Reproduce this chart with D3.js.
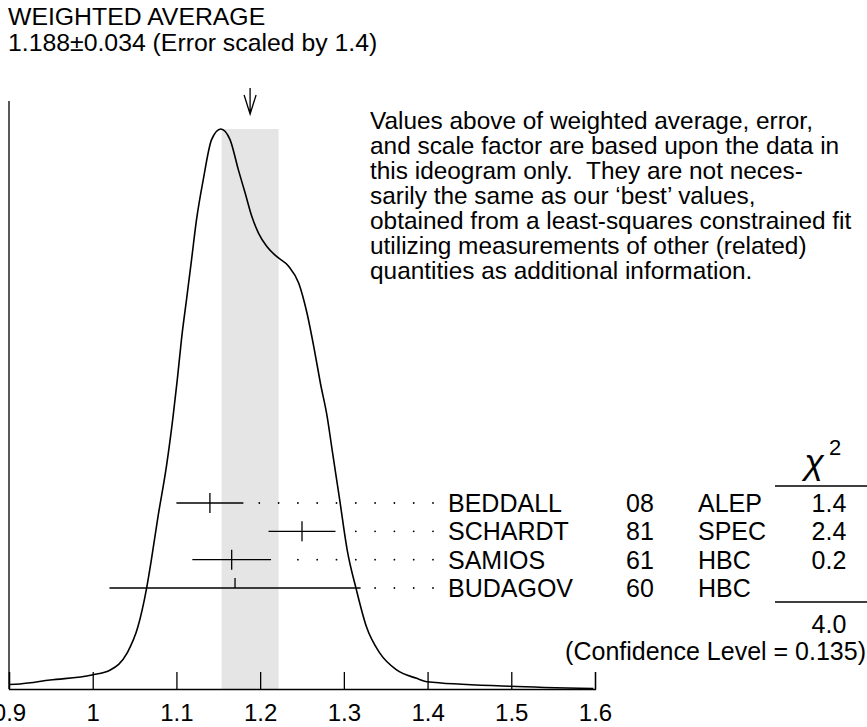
<!DOCTYPE html>
<html>
<head>
<meta charset="utf-8">
<script src="https://cdn.jsdelivr.net/npm/d3@7"></script>
<style>
  body { margin: 0; background: #fff; }
  text { font-family: "Liberation Sans", Arial, Helvetica, sans-serif; fill: #000; }
</style>
</head>
<body>
<script>
// measurements
var names  = ["BEDDALL", "SCHARDT", "SAMIOS", "BUDAGOV"];
var years  = ["08", "81", "61", "60"];
var techs  = ["ALEP", "SPEC", "HBC", "HBC"];
var values = [1.14, 1.25, 1.166, 1.17];
var errors = [0.04, 0.04, 0.047, 0.15];
var chi2   = ["1.4", "2.4", "0.2", ""];
var chi2Total = "4.0";
var confLevel = "0.135";

var avgValue = 1.188, avgError = 0.034, scaleFactor = "1.4";

var tickValues = [0.9, 1.0, 1.1, 1.2, 1.3, 1.4, 1.5, 1.6];
var tickLabels = ["0.9", "1", "1.1", "1.2", "1.3", "1.4", "1.5", "1.6"];

// ideogram curve (x value, height relative to peak)
var curveX = [0.900, 0.913, 0.949, 0.999, 1.021, 1.041, 1.054, 1.064, 1.070, 1.078,
              1.088, 1.096, 1.101, 1.106, 1.112, 1.118, 1.124, 1.132, 1.142, 1.153,
              1.164, 1.174, 1.182, 1.190, 1.198, 1.208, 1.220, 1.234, 1.246, 1.256,
              1.264, 1.272, 1.280, 1.286, 1.295, 1.304, 1.315, 1.327, 1.343, 1.363,
              1.387, 1.399, 1.498, 1.598];
var curveY = [0.008, 0.009, 0.016, 0.025, 0.034, 0.064, 0.111, 0.177, 0.230, 0.308,
              0.397, 0.487, 0.552, 0.624, 0.695, 0.766, 0.838, 0.909, 0.981, 1.000,
              0.981, 0.927, 0.886, 0.844, 0.814, 0.790, 0.772, 0.755, 0.725, 0.671,
              0.612, 0.546, 0.487, 0.427, 0.338, 0.248, 0.177, 0.111, 0.064, 0.034,
              0.019, 0.013, 0.005, 0.001];

var width = 867,
    height = 727,
    fontSize = 25;

var svg = d3.select("body")
            .append("svg")
            .attr("width", width)
            .attr("height", height);

var x = d3.scaleLinear()
    .domain([0.9, 1.6])
    .range([9, 595]);

var y = d3.scaleLinear()
    .domain([0, 1])
    .range([689, 129]);

var row = d3.scalePoint()
    .domain(names)
    .range([503, 588]);

// shaded band for weighted average +- error
svg.append("rect")
    .attr("x", x(avgValue - avgError))
    .attr("y", y(1))
    .attr("width", x(avgValue + avgError) - x(avgValue - avgError))
    .attr("height", y(0) - y(1))
    .attr("fill", "#e5e5e5");

// left axis line
svg.append("line")
    .attr("x1", x(0.9)).attr("x2", x(0.9))
    .attr("y1", 101).attr("y2", y(0))
    .attr("stroke", "#000")
    .attr("stroke-width", 1.3);

// bottom axis, ticks pointing up
var axis = svg.append("g")
    .attr("transform", "translate(0," + y(0) + ")")
    .call(d3.axisBottom(x)
        .tickValues(tickValues)
        .tickFormat(function(d, i) { return tickLabels[i]; })
        .tickSize(-17)
        .tickSizeOuter(-17)
        .tickPadding(15));
axis.selectAll("path, line").attr("stroke", "#000").attr("stroke-width", 1.3);
axis.selectAll("text")
    .attr("font-family", "Liberation Sans, Arial, sans-serif")
    .attr("font-size", 24)
    .attr("fill", "#000");

// ideogram
var line = d3.line()
    .x(function(d, i) { return x(curveX[i]); })
    .y(function(d) { return y(d); })
    .curve(d3.curveMonotoneX);

svg.append("path")
    .datum(curveY)
    .attr("fill", "none")
    .attr("stroke", "#000")
    .attr("stroke-width", 1.6)
    .attr("d", line);

// titles
svg.append("text")
    .attr("x", 8).attr("y", 25)
    .attr("font-size", 24.8)
    .text("WEIGHTED AVERAGE");
svg.append("text")
    .attr("x", 8).attr("y", 51)
    .attr("font-size", 24.8)
    .text(avgValue.toFixed(3) + "\u00b1" + avgError.toFixed(3) + " (Error scaled by " + scaleFactor + ")");

// arrow at the weighted average
var ax = x(avgValue);
svg.append("path")
    .attr("d", "M" + ax + ",88V114M" + (ax - 6) + ",95L" + ax + ",114L" + (ax + 6) + ",95")
    .attr("fill", "none")
    .attr("stroke", "#000")
    .attr("stroke-width", 1.3);

// note
var note = [
  "Values above of weighted average, error,",
  "and scale factor are based upon the data in",
  "this ideogram only.  They are not neces-",
  "sarily the same as our \u2018best\u2019 values,",
  "obtained from a least-squares constrained fit",
  "utilizing measurements of other (related)",
  "quantities as additional information."
];
svg.append("g").selectAll("text")
  .data(note)
  .enter().append("text")
    .attr("x", 370)
    .attr("y", function(d, i) { return 129 + i * 25; })
    .attr("font-size", 24.4)
    .style("white-space", "pre")
    .text(function(d) { return d; });

// measurements: error bars, dotted leaders, labels
var labelX = 448, dotStep = 19.3;
names.forEach(function(name, i) {
    var ry = row(name);
    var lo = x(values[i] - errors[i]), hi = x(values[i] + errors[i]), c = x(values[i]);
    svg.append("line")
        .attr("x1", lo).attr("x2", hi)
        .attr("y1", ry).attr("y2", ry)
        .attr("stroke", "#000").attr("stroke-width", 1.3);
    svg.append("line")
        .attr("x1", c).attr("x2", c)
        .attr("y1", ry - 10).attr("y2", chi2[i] === "" ? ry : ry + 10)
        .attr("stroke", "#000").attr("stroke-width", 1.3);

    var dots = [];
    for (var k = 1; labelX - 15 - (k - 1) * dotStep > hi + 10; k++) {
        dots.push(labelX - 15 - (k - 1) * dotStep);
    }
    svg.append("g").selectAll("circle")
      .data(dots)
      .enter().append("circle")
        .attr("cx", function(d) { return d; })
        .attr("cy", ry)
        .attr("r", 0.9)
        .attr("fill", "#000");

    var by = ry + 9;
    svg.append("text").attr("x", labelX).attr("y", by).attr("font-size", fontSize).text(name);
    svg.append("text").attr("x", 626).attr("y", by).attr("font-size", fontSize).text(years[i]);
    svg.append("text").attr("x", 698).attr("y", by).attr("font-size", fontSize).text(techs[i]);
    svg.append("text").attr("x", 829).attr("y", by).attr("font-size", fontSize)
        .attr("text-anchor", "middle").text(chi2[i]);
});

// chi-square column
svg.append("text")
    .attr("x", 814).attr("y", 474)
    .attr("font-family", "DejaVu Serif, Liberation Serif, serif")
    .attr("font-style", "italic")
    .attr("font-size", 36)
    .attr("text-anchor", "middle")
    .text("\u03c7");
svg.append("text")
    .attr("x", 829).attr("y", 455)
    .attr("font-size", 22)
    .text("2");
svg.append("line")
    .attr("x1", 775).attr("x2", 867).attr("y1", 486).attr("y2", 486)
    .attr("stroke", "#000").attr("stroke-width", 1.3);
svg.append("line")
    .attr("x1", 775).attr("x2", 867).attr("y1", 602).attr("y2", 602)
    .attr("stroke", "#000").attr("stroke-width", 1.3);
svg.append("text")
    .attr("x", 829).attr("y", 633)
    .attr("font-size", fontSize)
    .attr("text-anchor", "middle")
    .text(chi2Total);
svg.append("text")
    .attr("x", 866).attr("y", 660)
    .attr("font-size", fontSize)
    .attr("text-anchor", "end")
    .text("(Confidence Level = " + confLevel + ")");
</script>
</body>
</html>
